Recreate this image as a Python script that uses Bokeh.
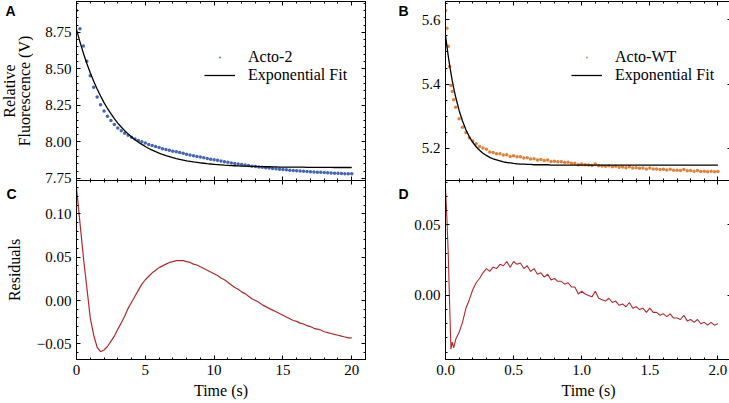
import math
from bokeh.plotting import figure
from bokeh.models import (Range1d, LinearAxis, SingleIntervalTicker, CustomJSTickFormatter,
                          Legend, LegendItem, ColumnDataSource)
from bokeh.core.properties import value
from bokeh.layouts import row, column
from bokeh.embed import file_html
from bokeh.resources import INLINE

# ---------------- data ----------------
t_a = [0.0, 0.25, 0.5, 0.75, 1.0, 1.25, 1.5, 1.75, 2.0, 2.25, 2.5, 2.75, 3.0, 3.25, 3.5, 3.75,
       4.0, 4.25, 4.5, 4.75, 5.0, 5.25, 5.5, 5.75, 6.0, 6.25, 6.5, 6.75, 7.0, 7.25, 7.5, 7.75,
       8.0, 8.25, 8.5, 8.75, 9.0, 9.25, 9.5, 9.75, 10.0, 10.25, 10.5, 10.75, 11.0, 11.25, 11.5, 11.75,
       12.0, 12.25, 12.5, 12.75, 13.0, 13.25, 13.5, 13.75, 14.0, 14.25, 14.5, 14.75, 15.0, 15.25, 15.5, 15.75,
       16.0, 16.25, 16.5, 16.75, 17.0, 17.25, 17.5, 17.75, 18.0, 18.25, 18.5, 18.75, 19.0, 19.25, 19.5, 19.75, 20.0]

acto2 = [8.900, 8.775, 8.657, 8.552, 8.453, 8.375, 8.308, 8.255, 8.212, 8.176, 8.146, 8.119, 8.096, 8.076, 8.059, 8.046,
         8.032, 8.020, 8.010, 8.002, 7.993, 7.983, 7.976, 7.968, 7.961, 7.954, 7.948, 7.943, 7.937, 7.932, 7.927, 7.922,
         7.916, 7.911, 7.905, 7.901, 7.896, 7.891, 7.886, 7.882, 7.878, 7.874, 7.869, 7.865, 7.861, 7.856, 7.852, 7.849,
         7.845, 7.842, 7.838, 7.834, 7.832, 7.829, 7.826, 7.823, 7.821, 7.818, 7.816, 7.813, 7.811, 7.809, 7.807, 7.804,
         7.803, 7.801, 7.800, 7.797, 7.796, 7.794, 7.793, 7.792, 7.790, 7.789, 7.788, 7.786, 7.785, 7.784, 7.783, 7.782, 7.782]

fit_a = [8.770, 8.685, 8.607, 8.537, 8.473, 8.415, 8.362, 8.314, 8.269, 8.229, 8.193, 8.160, 8.129, 8.102, 8.077, 8.055,
         8.034, 8.015, 7.998, 7.983, 7.969, 7.955, 7.944, 7.933, 7.923, 7.914, 7.906, 7.899, 7.892, 7.886, 7.881, 7.876,
         7.871, 7.867, 7.863, 7.860, 7.857, 7.854, 7.851, 7.849, 7.847, 7.845, 7.843, 7.841, 7.840, 7.838, 7.837, 7.836,
         7.835, 7.834, 7.833, 7.832, 7.832, 7.831, 7.831, 7.830, 7.830, 7.829, 7.829, 7.828, 7.828, 7.828, 7.828, 7.827,
         7.827, 7.827, 7.827, 7.826, 7.826, 7.826, 7.826, 7.826, 7.826, 7.826, 7.826, 7.825, 7.825, 7.825, 7.825, 7.825, 7.825]

res_c = [0.130, 0.090, 0.050, 0.015, -0.020, -0.040, -0.054, -0.059, -0.057, -0.053, -0.047, -0.041, -0.033, -0.026, -0.018, -0.009,
         -0.002, 0.005, 0.012, 0.019, 0.024, 0.028, 0.032, 0.035, 0.038, 0.040, 0.042, 0.044, 0.045, 0.046, 0.046, 0.046,
         0.045, 0.044, 0.042, 0.041, 0.039, 0.037, 0.035, 0.033, 0.031, 0.029, 0.026, 0.024, 0.021, 0.018, 0.015, 0.013,
         0.010, 0.008, 0.005, 0.002, 0.000, -0.002, -0.005, -0.007, -0.009, -0.011, -0.013, -0.015, -0.017, -0.019, -0.021, -0.023,
         -0.024, -0.026, -0.027, -0.029, -0.030, -0.032, -0.033, -0.034, -0.036, -0.037, -0.038, -0.039, -0.040, -0.041, -0.042, -0.043, -0.043]

t_b = [0.0, 0.01, 0.02, 0.03, 0.04, 0.05, 0.06, 0.075,
       0.1, 0.125, 0.15, 0.175, 0.2, 0.225, 0.25, 0.275, 0.3, 0.325, 0.35, 0.375, 0.4, 0.425, 0.45, 0.475,
       0.5, 0.525, 0.55, 0.575, 0.6, 0.625, 0.65, 0.675, 0.7, 0.725, 0.75, 0.775, 0.8, 0.825, 0.85, 0.875,
       0.9, 0.925, 0.95, 0.975, 1.0, 1.025, 1.05, 1.075, 1.1, 1.125, 1.15, 1.175, 1.2, 1.225, 1.25, 1.275,
       1.3, 1.325, 1.35, 1.375, 1.4, 1.425, 1.45, 1.475, 1.5, 1.525, 1.55, 1.575, 1.6, 1.625, 1.65, 1.675,
       1.7, 1.725, 1.75, 1.775, 1.8, 1.825, 1.85, 1.875, 1.9, 1.925, 1.95, 1.975, 2.0]

acto_wt = [5.629, 5.574, 5.518, 5.455, 5.396, 5.377, 5.351, 5.328,
           5.292, 5.266, 5.249, 5.233, 5.223, 5.214, 5.206, 5.201, 5.197, 5.189, 5.187, 5.183, 5.183, 5.179, 5.180, 5.175,
           5.177, 5.174, 5.174, 5.170, 5.171, 5.167, 5.168, 5.164, 5.165, 5.162, 5.164, 5.159, 5.160, 5.158, 5.158, 5.156,
           5.157, 5.154, 5.154, 5.149, 5.151, 5.149, 5.148, 5.147, 5.151, 5.146, 5.145, 5.144, 5.146, 5.143, 5.144, 5.141,
           5.142, 5.140, 5.143, 5.139, 5.140, 5.138, 5.139, 5.136, 5.139, 5.136, 5.136, 5.134, 5.135, 5.133, 5.135, 5.132,
           5.132, 5.131, 5.134, 5.130, 5.131, 5.129, 5.131, 5.128, 5.129, 5.127, 5.129, 5.127, 5.128]

fit_b = [5.553, 5.519, 5.488, 5.460, 5.434, 5.410, 5.388, 5.359,
         5.318, 5.285, 5.258, 5.236, 5.219, 5.205, 5.194, 5.185, 5.178, 5.172, 5.167, 5.164, 5.161, 5.158, 5.156, 5.155,
         5.153, 5.152, 5.151, 5.151, 5.150, 5.150, 5.149, 5.149, 5.149, 5.149, 5.149, 5.148, 5.148, 5.148, 5.148, 5.148,
         5.148, 5.148, 5.148, 5.148, 5.148, 5.148, 5.148, 5.148, 5.148, 5.148, 5.148, 5.148, 5.148, 5.148, 5.148, 5.148,
         5.148, 5.148, 5.148, 5.148, 5.148, 5.148, 5.148, 5.148, 5.148, 5.148, 5.148, 5.148, 5.148, 5.148, 5.148, 5.148,
         5.148, 5.148, 5.148, 5.148, 5.148, 5.148, 5.148, 5.148, 5.148, 5.148, 5.148, 5.148, 5.148]

res_d = [0.076, 0.055, 0.030, -0.005, -0.038, -0.033, -0.037, -0.031,
         -0.026, -0.019, -0.009, -0.003, 0.004, 0.009, 0.012, 0.016, 0.019, 0.017, 0.020, 0.019, 0.022, 0.021, 0.024, 0.020,
         0.024, 0.022, 0.023, 0.019, 0.021, 0.017, 0.019, 0.015, 0.016, 0.013, 0.015, 0.011, 0.012, 0.010, 0.010, 0.008,
         0.009, 0.006, 0.006, 0.001, 0.003, 0.001, 0.000, -0.001, 0.003, -0.002, -0.003, -0.004, -0.002, -0.005, -0.004, -0.007,
         -0.006, -0.008, -0.005, -0.009, -0.008, -0.010, -0.009, -0.012, -0.009, -0.012, -0.012, -0.014, -0.013, -0.015, -0.013, -0.016,
         -0.016, -0.017, -0.014, -0.018, -0.017, -0.019, -0.017, -0.020, -0.019, -0.021, -0.019, -0.021, -0.020]

series_a_label = "Acto-2"
series_b_label = "Acto-WT"
fit_label = "Exponential Fit"
xlabel = "Time (s)"

# ---------------- styling / layout constants ----------------
SERIF = "Liberation Serif"
SANS = "Liberation Sans"
BLUE = "#4466b5"
ORANGE = "#e3803a"
RED = "#ad2a2e"

TOTAL_H = 402
STRIP_L, STRIP_M = 33, 38
FW1, FW2, FH = 289, 286, 179
OVERLAP = 8   # lower panels slide up under the upper panels' bottom border


def fmt(decimals):
    return CustomJSTickFormatter(code=(
        "var v = Math.abs(tick) < 1e-9 ? 0 : tick;"
        "return v.toFixed(%d).replace('-', '\\u2212');" % decimals))


def style_axis(ax, labels, decimals=0):
    ax.major_tick_in = 4
    ax.major_tick_out = 0
    ax.minor_tick_in = 2
    ax.minor_tick_out = 0
    ax.axis_line_color = "black"
    ax.axis_line_width = 1
    ax.major_tick_line_color = "black"
    ax.minor_tick_line_color = "black"
    ax.axis_label_text_font = SERIF
    ax.axis_label_text_font_size = "16px"
    ax.axis_label_text_font_style = "normal"
    ax.axis_label_text_color = "black"
    if labels:
        ax.formatter = fmt(decimals)
        ax.major_label_text_font = SERIF
        ax.major_label_text_font_size = "15px"
        ax.major_label_text_color = "black"
        ax.major_label_standoff = 5
    else:
        ax.formatter = CustomJSTickFormatter(code="return '';")
        ax.major_label_text_font_size = "0px"
        ax.major_label_standoff = 0


def panel(fw, xr, yr, xint, xminor, yint, yminor, borders, xlabels, xdec, ydec):
    left, right, top, bottom = borders
    p = figure(frame_width=fw, frame_height=FH,
               x_range=Range1d(*xr), y_range=Range1d(*yr),
               output_backend="svg", toolbar_location=None,
               min_border_left=left, min_border_right=right,
               min_border_top=top, min_border_bottom=bottom)
    p.xgrid.visible = False
    p.ygrid.visible = False
    p.outline_line_color = "black"
    p.outline_line_width = 1
    p.background_fill_color = "white"
    p.border_fill_color = "white"
    bottom_ax = p.below[0]
    left_ax = p.left[0]
    bottom_ax.ticker = SingleIntervalTicker(interval=xint, num_minor_ticks=xminor)
    left_ax.ticker = SingleIntervalTicker(interval=yint, num_minor_ticks=yminor)
    style_axis(bottom_ax, xlabels, xdec)
    style_axis(left_ax, True, ydec)
    top_ax = LinearAxis(ticker=SingleIntervalTicker(interval=xint, num_minor_ticks=xminor))
    right_ax = LinearAxis(ticker=SingleIntervalTicker(interval=yint, num_minor_ticks=yminor))
    style_axis(top_ax, False)
    style_axis(right_ax, False)
    p.add_layout(top_ax, "above")
    p.add_layout(right_ax, "right")
    return p, bottom_ax


def lower(p):
    # transparent so the upper panel's overhanging tick label stays visible
    p.margin = (-OVERLAP, 0, 0, 0)
    p.background_fill_alpha = 0
    p.border_fill_alpha = 0


def make_legend(p, items, loc):
    lg = Legend(items=items, location=loc, glyph_width=31, glyph_height=18,
                label_height=18, label_standoff=13, spacing=0, padding=0, margin=0,
                border_line_alpha=0, background_fill_alpha=0,
                label_text_font=SERIF, label_text_font_size="16px", label_text_color="black")
    p.add_layout(lg)


def strip(width):
    s = figure(width=width, height=TOTAL_H, x_range=Range1d(0, width), y_range=Range1d(0, TOTAL_H),
               output_backend="svg", toolbar_location=None,
               x_axis_location=None, y_axis_location=None, min_border=0)
    s.xgrid.visible = False
    s.ygrid.visible = False
    s.outline_line_color = None
    s.background_fill_color = "white"
    s.border_fill_color = "white"
    return s


# ---------------- panel A ----------------
pA, _ = panel(FW1, (0, 21), (7.736, 8.961), 5, 5, 0.25, 5, (40, 8, 1, OVERLAP), False, 0, 2)
src_a = ColumnDataSource(dict(t=t_a, d=acto2, f=fit_a, r=res_c))
ra = pA.scatter("t", "d", source=src_a, size=14, marker="dot", line_color=BLUE, fill_color=BLUE)
fa = pA.line("t", "f", source=src_a, line_color="black", line_width=1.3)
make_legend(pA, [LegendItem(label=series_a_label, renderers=[ra]),
                 LegendItem(label=fit_label, renderers=[fa])], (128, 96))

# ---------------- panel C ----------------
pC, c_bottom = panel(FW1, (0, 21), (-0.068, 0.1385), 5, 5, 0.05, 5, (40, 8, 0, 43), True, 0, 2)
c_bottom.axis_label = xlabel
c_bottom.axis_label_standoff = 4
pC.line("t", "r", source=src_a, line_color=RED, line_width=1.2)
lower(pC)

# ---------------- panel B ----------------
pB, _ = panel(FW2, (0, 2.1), (5.100, 5.657), 0.5, 5, 0.2, 4, (33, 1, 1, OVERLAP), False, 1, 1)
src_b = ColumnDataSource(dict(t=t_b, d=acto_wt, f=fit_b, r=res_d))
rb = pB.scatter("t", "d", source=src_b, size=14, marker="dot", line_color=ORANGE, fill_color=ORANGE)
fb = pB.line("t", "f", source=src_b, line_color="black", line_width=1.3)
make_legend(pB, [LegendItem(label=series_b_label, renderers=[rb]),
                 LegendItem(label=fit_label, renderers=[fb])], (126, 96))

# ---------------- panel D ----------------
pD, d_bottom = panel(FW2, (0, 2.1), (-0.0453, 0.0813), 0.5, 5, 0.05, 5, (33, 1, 0, 43), True, 1, 2)
d_bottom.axis_label = xlabel
d_bottom.axis_label_standoff = 4
pD.line("t", "r", source=src_b, line_color=RED, line_width=1.1)
lower(pD)

# ---------------- text strips (panel letters and y-axis titles) ----------------
# positions are given in pixels from the top of the page
sL = strip(STRIP_L)
sL.text(x=[5, 6], y=[TOTAL_H - 10.5, TOTAL_H - 193], text=["A", "C"],
        text_font=value(SANS), text_font_style="bold", text_font_size=value("14px"),
        text_align="left", text_baseline="middle", text_color="black")
sL.text(x=[9, 24, 14], y=[TOTAL_H - 90.5, TOTAL_H - 90.5, TOTAL_H - 269.5],
        text=["Relative", "Fluorescence (V)", "Residuals"], angle=math.pi / 2,
        text_font=value(SERIF), text_font_size=value("16px"),
        text_align="center", text_baseline="middle", text_color="black")

sM = strip(STRIP_M)
sM.text(x=[25, 25], y=[TOTAL_H - 10.5, TOTAL_H - 193], text=["B", "D"],
        text_font=value(SANS), text_font_style="bold", text_font_size=value("14px"),
        text_align="left", text_baseline="middle", text_color="black")

layout = row(sL, column(pA, pC), sM, column(pB, pD))

open("out.html", "w").write(file_html(layout, INLINE))
